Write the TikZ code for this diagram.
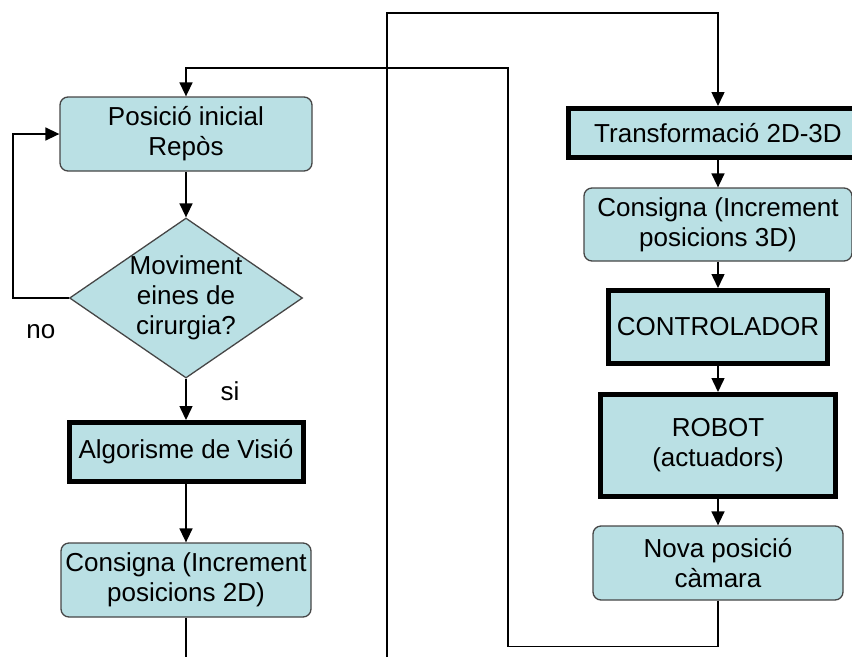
\documentclass[tikz,border=0pt]{standalone}
\usepackage{fontspec}
\setmainfont{Liberation Sans}
\usetikzlibrary{shapes.geometric,arrows.meta,positioning}
\definecolor{boxfill}{RGB}{186,224,228}
\definecolor{boxline}{RGB}{70,70,70}
\tikzset{
every node/.style={font=\fontsize{26}{30}\selectfont}, % text size of the whole chart
block/.style={rectangle, rounded corners=8pt, draw=boxline, line width=1.3pt, fill=boxfill, align=center, inner sep=0pt},
process/.style={rectangle, draw=black, line width=5pt, fill=boxfill, align=center, inner sep=0pt},
decision/.style={diamond, draw=boxline, line width=1.3pt, fill=boxfill, align=center, inner sep=-14pt, aspect=1.46},
flow/.style={-{Triangle[length=14pt,width=13pt]}, line width=1.5pt},
}

\begin{document}
\begin{tikzpicture}[x=1pt,y=-1pt,on grid]
   \useasboundingbox (0,0) rectangle (852,657);
   \clip (0,0) rectangle (852,657);
   % left column
   \node[block, minimum width=252pt, minimum height=74pt] (pos) at (186,134) {Posició inicial\\Repòs};
   \node[decision, minimum width=233pt, minimum height=160pt] (dec) [below=164pt of pos] {Moviment\\eines de\\cirurgia?};
   \node[process, minimum width=234pt, minimum height=59pt] (alg) [below=154pt of dec] {Algorisme de Visió};
   \node[block, minimum width=250pt, minimum height=74pt] (con2) [below=128pt of alg] {Consigna (Increment\\posicions 2D)};
   % right column
   \node[process, minimum width=299pt, minimum height=49pt] (trans) at (718,133) {Transformació 2D-3D};
   \node[block, minimum width=268pt, minimum height=73pt] (con3) [below=91.5pt of trans] {Consigna (Increment\\posicions 3D)};
   \node[process, minimum width=219pt, minimum height=73pt] (ctrl) [below=102.5pt of con3] {CONTROLADOR};
   \node[process, minimum width=235pt, minimum height=102pt] (robot) [below=118.5pt of ctrl] {ROBOT\\(actuadors)};
   \node[block, minimum width=250pt, minimum height=74pt] (nova) [below=117.5pt of robot] {Nova posició\\càmara};
   \coordinate (cut2d) at (186,657);
   \coordinate (cut3d) at (387,657);

   \draw[flow] (pos) -- (dec);
   \draw[flow] (dec) -- node[pos=0.3, xshift=44pt] {si} (alg);
   \draw[flow] (dec.west) -- node[midway, yshift=-34pt] {no} ++(-56,0) |- (pos.west);
   \draw[flow] (alg) -- (con2);
   \draw[line width=1.5pt] (con2) -- (cut2d);
   \draw[flow] (cut3d) -- (387,13) -| (trans.north);
   \draw[flow] (trans) -- (con3);
   \draw[flow] (con3) -- (ctrl);
   \draw[flow] (ctrl) -- (robot);
   \draw[flow] (robot) -- (nova);
   \draw[flow] (nova.south) -- ++(0,46) -| (508,68) -| (pos.north);
\end{tikzpicture}
\end{document}
